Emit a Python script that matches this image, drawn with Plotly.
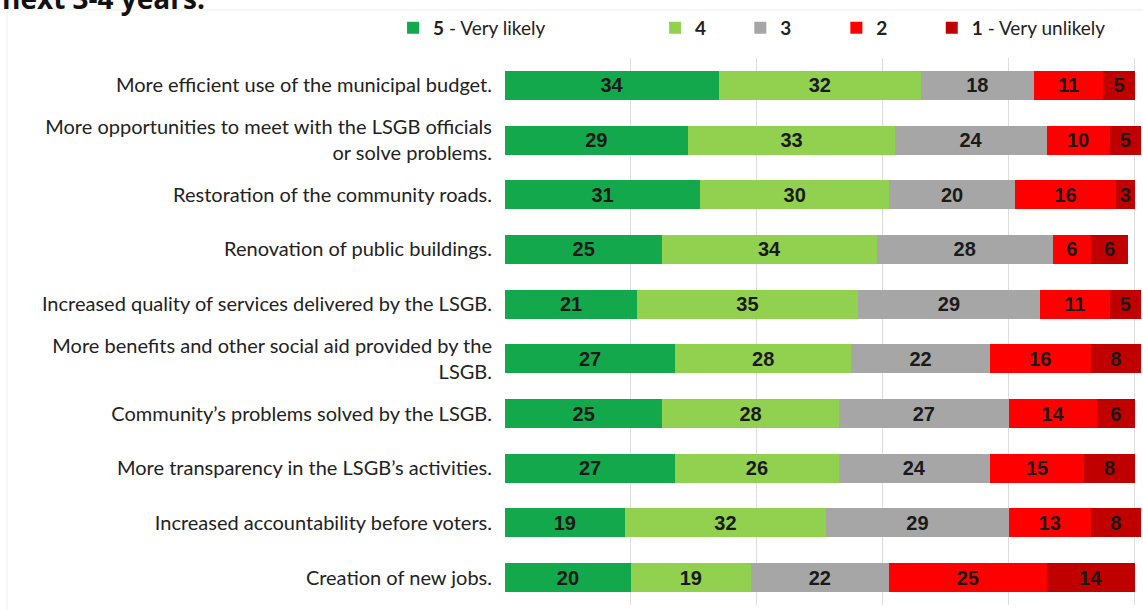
import plotly.graph_objects as go

# Survey statements (top to bottom)
categories = [
    "More efficient use of the municipal budget.",
    "More opportunities to meet with the LSGB officials<br>or solve problems.",
    "Restoration of the community roads.",
    "Renovation of public buildings.",
    "Increased quality of services delivered by the LSGB.",
    "More benefits and other social aid provided by the<br>LSGB.",
    "Community’s problems solved by the LSGB.",
    "More transparency in the LSGB’s activities.",
    "Increased accountability before voters.",
    "Creation of new jobs.",
]

# Share of respondents (%) per likelihood score
very_likely = [34, 29, 31, 25, 21, 27, 25, 27, 19, 20]
score_4 = [32, 33, 30, 34, 35, 28, 28, 26, 32, 19]
score_3 = [18, 24, 20, 28, 29, 22, 27, 24, 29, 22]
score_2 = [11, 10, 16, 6, 11, 16, 14, 15, 13, 25]
very_unlikely = [5, 5, 3, 6, 5, 8, 6, 8, 8, 14]

series_names = ["<b>5</b> - Very likely", "<b>4</b>", "<b>3</b>", "<b>2</b>", "<b>1</b> - Very unlikely"]
series_values = [very_likely, score_4, score_3, score_2, very_unlikely]
colors = ["#12a84b", "#92d050", "#a6a6a6", "#fe0000", "#c00000"]
legend_ids = ["legend", "legend2", "legend3", "legend4", "legend5"]
legend_x = [-0.176, 0.236, 0.370, 0.521, 0.671]

fig = go.Figure()
for name, vals, col, lid in zip(series_names, series_values, colors, legend_ids):
    fig.add_trace(go.Bar(
        y=categories, x=vals, name=name, orientation="h",
        marker=dict(color=col, line=dict(width=0)),
        text=[str(v) for v in vals], textposition="inside",
        insidetextanchor="middle",
        textfont=dict(family="Liberation Sans, Arial", size=20, color="#1a1a1a", weight="bold"),
        legend=lid, hoverinfo="skip", showlegend=True,
    ))

layout_legends = {}
for lid, lx in zip(legend_ids, legend_x):
    layout_legends[lid] = dict(
        x=lx, y=1.055, xanchor="left", yanchor="middle", orientation="h",
        bgcolor="rgba(0,0,0,0)", borderwidth=0, visible=True,
        font=dict(family="Lato, Noto Sans, sans-serif", size=19, color="#222222"),
        itemclick=False, itemdoubleclick=False,
    )

fig.update_layout(
    width=1143, height=610,
    showlegend=True,
    barmode="stack", bargap=0.47,
    margin=dict(l=505, r=2, t=58, b=5),
    paper_bgcolor="white", plot_bgcolor="white",
    uniformtext=dict(mode="show", minsize=10),
    xaxis=dict(range=[0, 101], dtick=20, showgrid=True, gridcolor="#dcdcdc", gridwidth=1,
               showticklabels=False, zeroline=False, showline=False, fixedrange=True),
    yaxis=dict(autorange="reversed", showgrid=False, showline=False, zeroline=False,
               ticklabelstandoff=12,
               tickfont=dict(family="Lato, Noto Sans, sans-serif", size=20, color="#222222"),
               fixedrange=True),
    annotations=[dict(
        text="<b>next 3-4 years.</b>", xref="paper", yref="paper",
        x=-505 / 636, y=1.0713, xanchor="left", yanchor="bottom", showarrow=False,
        font=dict(family="Open Sans, sans-serif", size=28, color="#111111"),
    )],
    shapes=[dict(type="rect", xref="paper", yref="paper", x0=-498 / 636, x1=1.01, y0=-0.02, y1=1.088,
                 line=dict(color="#efefef", width=1), layer="below")],
    **layout_legends,
)

fig.write_html("out.html")
